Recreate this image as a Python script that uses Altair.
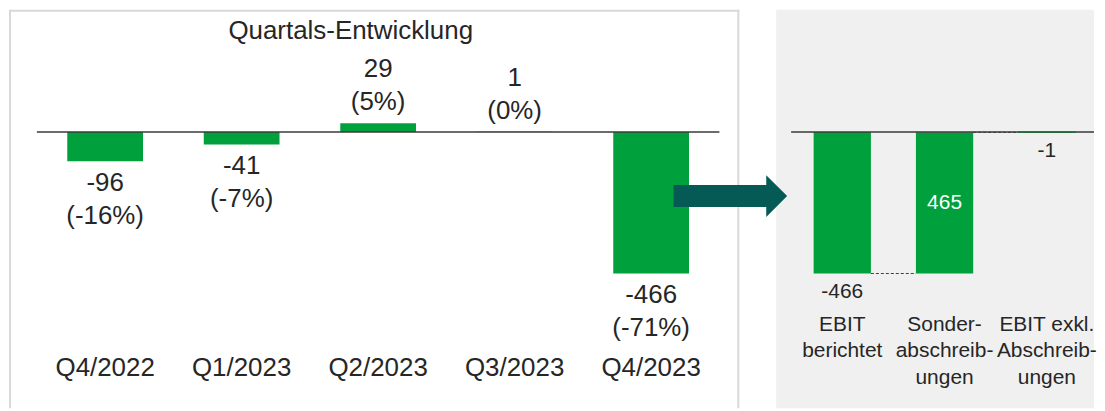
import altair as alt
import pandas as pd

# ---------------- data ----------------
quarters = ["Q4/2022", "Q1/2023", "Q2/2023", "Q3/2023", "Q4/2023"]
quarter_values = [-96, -41, 29, 1, -466]
quarter_pct = ["(-16%)", "(-7%)", "(5%)", "(0%)", "(-71%)"]

title_text = ["Quartals-Entwicklung"]

bridge_keys = ["EBIT berichtet", "Sonderabschreibungen", "EBIT exkl. Abschreibungen"]
bridge_names = ["EBIT\nberichtet", "Sonder-\nabschreib-\nungen", "EBIT exkl.\nAbschreib-\nungen"]
bridge_start = [0, -466, 0]
bridge_end = [-466, -1, -1]
bridge_text = ["-466", "465", "-1"]
bridge_idx = [0, 1, 2]

connector_from = ["EBIT berichtet", "Sonderabschreibungen"]
connector_to = ["Sonderabschreibungen", "EBIT exkl. Abschreibungen"]
connector_level = [-466, -1]

# ---------------- style ----------------
H = 400
LW = 733
RW = 319
FONT = "Liberation Sans"
TXT = "#262626"
GREEN = "#00a03c"
LINE = "#3a3a3a"
BORDER = "#d9d9d9"
PANEL = "#f0f0f0"
ARROW = "#055a56"
ARROW_PATH = ("M-1,-0.193L0.632,-0.193L0.632,-0.368L1,0L0.632,0.368"
              "L0.632,0.193L-1,0.193Z")

yscale = alt.Scale(domain=[-910, 403], nice=False, zero=False)

one = pd.DataFrame({"z": [0]})

# ---------------- left panel ----------------
qdf = pd.DataFrame({"q": quarters, "v": quarter_values, "pct": quarter_pct})
qdf["label"] = qdf["v"].astype(str) + "\n" + qdf["pct"]

qx = alt.Scale(domain=quarters, range=[28, 713], paddingInner=0.445, paddingOuter=0.2225)
QX = alt.X("q:N", scale=qx, axis=None)
QY = alt.Y("v:Q", scale=yscale, axis=None)

qbase = alt.Chart(qdf)

border_l = alt.Chart(one).mark_rule(color=BORDER, strokeWidth=2).encode(
    x=alt.value(1), y=alt.value(0), y2=alt.value(H))
border_r = alt.Chart(one).mark_rule(color=BORDER, strokeWidth=2).encode(
    x=alt.value(LW - 1), y=alt.value(0), y2=alt.value(H))
border_t = alt.Chart(one).mark_rule(color=BORDER, strokeWidth=2).encode(
    y=alt.value(1), x=alt.value(0), x2=alt.value(LW))

qbars = qbase.mark_bar(color=GREEN).encode(x=QX, y=QY, y2=alt.datum(0))

zero_left = alt.Chart(one).mark_rule(color=LINE, strokeWidth=1.5).encode(
    x=alt.value(28), x2=alt.value(713), y=alt.Y("z:Q", scale=yscale, axis=None))

neg_labels = qbase.transform_filter("datum.v < 0").mark_text(
    font=FONT, fontSize=26, color=TXT, baseline="top", dy=9,
    lineBreak="\n", lineHeight=33).encode(x=QX, y=QY, text="label:N")

pos_labels = qbase.transform_filter("datum.v >= 0").mark_text(
    font=FONT, fontSize=26, color=TXT, baseline="top", dy=-67,
    lineBreak="\n", lineHeight=33).encode(x=QX, y=QY, text="label:N")

q_cats = qbase.mark_text(font=FONT, fontSize=26, color=TXT, baseline="middle").encode(
    x=QX, y=alt.value(360), text="q:N")

title = alt.Chart(pd.DataFrame({"t": title_text})).mark_text(
    font=FONT, fontSize=26, color=TXT, baseline="middle").encode(
    x=alt.value(343), y=alt.value(21), text="t:N")

left = alt.layer(border_l, border_r, border_t, qbars, zero_left,
                 neg_labels, pos_labels, q_cats, title).properties(width=LW, height=H)

# ---------------- right panel ----------------
bdf = pd.DataFrame({"k": bridge_keys, "name": bridge_names, "start": bridge_start,
                    "end": bridge_end, "txt": bridge_text, "idx": bridge_idx})
bx = alt.Scale(domain=bridge_keys, range=[15, 323], paddingInner=0.44, paddingOuter=0.22)
BX = alt.X("k:N", scale=bx, axis=None)

bg = alt.Chart(one).mark_rect(color=PANEL).encode(
    x=alt.value(0), x2=alt.value(RW), y=alt.value(0), y2=alt.value(H))

rbars = alt.Chart(bdf).mark_bar(color=GREEN).encode(
    x=BX, y=alt.Y("start:Q", scale=yscale, axis=None), y2="end:Q")

cdf = pd.DataFrame({"a": connector_from, "b": connector_to, "lvl": connector_level})
conn = alt.Chart(cdf).mark_rule(color="#404040", strokeWidth=1, strokeDash=[3, 2]).encode(
    x=alt.X("a:N", scale=bx, axis=None, bandPosition=1),
    x2=alt.X2("b", bandPosition=0),
    y=alt.Y("lvl:Q", scale=yscale, axis=None))

zero_right = alt.Chart(one).mark_rule(color=LINE, strokeWidth=1.5).encode(
    x=alt.value(15), x2=alt.value(RW), y=alt.Y("z:Q", scale=yscale, axis=None))

bar3 = alt.Chart(bdf).transform_filter("datum.idx == 2").mark_bar(
    color="#1f6b3a", stroke="#1f6b3a", strokeWidth=1).encode(
    x=BX, y=alt.Y("start:Q", scale=yscale, axis=None), y2="end:Q")

out_labels = alt.Chart(bdf).transform_filter("datum.idx != 1").mark_text(
    font=FONT, fontSize=21, color=TXT, baseline="top", dy=8).encode(
    x=BX, y=alt.Y("end:Q", scale=yscale, axis=None), text="txt:N")

in_labels = alt.Chart(bdf).transform_filter("datum.idx == 1").transform_calculate(
    mid="(datum.start + datum.end) / 2").mark_text(
    font=FONT, fontSize=21, color="white", baseline="middle").encode(
    x=BX, y=alt.Y("mid:Q", scale=yscale, axis=None), text="txt:N")

b_cats = alt.Chart(bdf).mark_text(
    font=FONT, fontSize=21, color=TXT, baseline="top", lineBreak="\n", lineHeight=27).encode(
    x=BX, y=alt.value(305), text="name:N")

arrow = alt.Chart(one).mark_point(
    shape=ARROW_PATH, size=12996, filled=True, color=ARROW, opacity=1, strokeWidth=0).encode(
    x=alt.value(-46), y=alt.value(187))

right = alt.layer(bg, rbars, conn, zero_right, bar3, out_labels, in_labels,
                  b_cats, arrow).properties(width=RW, height=H)

chart = alt.hconcat(left, right, spacing=37, bounds="flush").properties(
    padding=0).configure_view(strokeWidth=0)

chart.save("out.html", embed_options={"renderer": "svg", "actions": False})
